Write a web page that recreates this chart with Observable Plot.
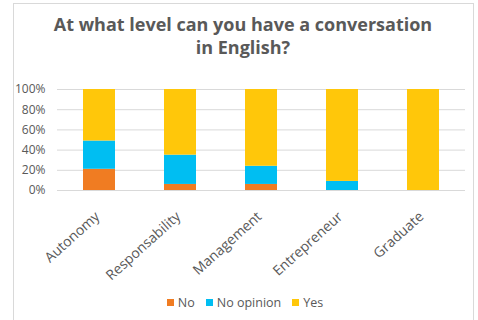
<!DOCTYPE html>
<html><head><meta charset="utf-8">
<script src="https://cdn.jsdelivr.net/npm/d3@7"></script>
<script src="https://cdn.jsdelivr.net/npm/@observablehq/plot@0.6"></script>
<style>
body{margin:0;background:#fff;font-family:"Open Sans",sans-serif;}
#frame{position:absolute;left:13px;top:3px;width:461px;height:330px;border:1px solid #d9d9d9;box-sizing:border-box;}
#title{position:absolute;left:0;top:13px;width:486px;text-align:center;font-weight:bold;font-size:18px;line-height:23px;color:#595959;}
#chart{position:absolute;left:0;top:0;}
#legend{position:absolute;left:0;top:294px;width:490px;display:flex;justify-content:center;gap:11px;font-size:12.5px;color:#595959;}
#legend span{display:flex;align-items:center;gap:4px;}
#legend i{display:inline-block;width:7px;height:7px;}
</style></head>
<body>
<div id="frame"></div>
<div id="chart"></div>
<div id="title">At what level can you have a conversation<br>in English?</div>
<div id="legend"></div>
<script>
const categories = ["Autonomy", "Responsability", "Management", "Entrepreneur", "Graduate"];
const seriesNames = ["No", "No opinion", "Yes"];
const colors = ["#F07C22", "#00BEF2", "#FFC70A"];
const noValues = [21, 6, 6, 0, 0];
const noOpinionValues = [28, 29, 18, 9, 0];
const yesValues = [51, 65, 76, 91, 100];
const yTicks = [0, 20, 40, 60, 80, 100];

const seriesValues = [noValues, noOpinionValues, yesValues];
const data = [];
seriesNames.forEach((s, si) => categories.forEach((c, ci) => data.push({category: c, series: s, value: seriesValues[si][ci]})));

const chart = Plot.plot({
  width: 478, height: 285,
  marginTop: 89, marginBottom: 95, marginLeft: 57, marginRight: 13,
  style: {fontFamily: "'Open Sans', sans-serif", color: "#595959"},
  x: {domain: categories, paddingInner: 0.6, paddingOuter: 0.3, label: null},
  y: {domain: [0, 100], label: null},
  color: {domain: seriesNames, range: colors},
  marks: [
    Plot.gridY(yTicks, {stroke: "#d9d9d9", strokeOpacity: 1, strokeWidth: 1}),
    Plot.barY(data, {x: "category", y: "value", fill: "series", order: seriesNames}),
    Plot.axisY(yTicks, {tickSize: 0, tickPadding: 12, tickFormat: d => d + "%", fontSize: 12, fill: "#595959"}),
    Plot.axisX({tickSize: 0, tickPadding: 24, dx: -2, tickRotate: -42, fontSize: 14, fill: "#595959"})
  ]
});
document.getElementById("chart").appendChild(chart);

const legend = document.getElementById("legend");
seriesNames.forEach((s, i) => {
  const span = document.createElement("span");
  span.innerHTML = `<i style="background:${colors[i]}"></i>${s}`;
  legend.appendChild(span);
});
</script>
</body></html>
